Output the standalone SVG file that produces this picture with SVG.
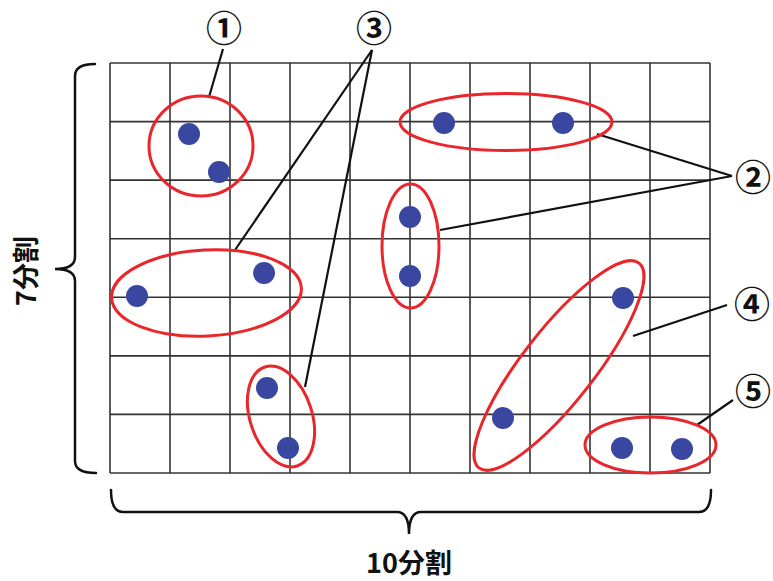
<svg xmlns="http://www.w3.org/2000/svg" width="773" height="581" viewBox="0 0 773 581">
<style>
.grid line{stroke:#333;stroke-width:1.6}
.grp{fill:none;stroke:#e8262b;stroke-width:3}
.dot{fill:#3a47a0}
.lead{stroke:#111;stroke-width:2.2;fill:none}
.brace{stroke:#111;stroke-width:2.5;fill:none;stroke-linecap:round}
.num{font-family:"Noto Sans CJK JP","Noto Sans",sans-serif;font-weight:bold;font-size:36px;fill:#111;text-anchor:middle}
.lbl{font-family:"Noto Sans CJK JP",sans-serif;font-weight:bold;font-size:27px;fill:#111;text-anchor:middle}
</style>
<rect width="773" height="581" fill="#fff"/>
<g id="grid" class="grid">
<line x1="110" y1="63" x2="110" y2="473"/>
<line x1="170" y1="63" x2="170" y2="473"/>
<line x1="230" y1="63" x2="230" y2="473"/>
<line x1="290" y1="63" x2="290" y2="473"/>
<line x1="350" y1="63" x2="350" y2="473"/>
<line x1="410" y1="63" x2="410" y2="473"/>
<line x1="470" y1="63" x2="470" y2="473"/>
<line x1="530" y1="63" x2="530" y2="473"/>
<line x1="590" y1="63" x2="590" y2="473"/>
<line x1="650" y1="63" x2="650" y2="473"/>
<line x1="710" y1="63" x2="710" y2="473"/>
<line x1="110" y1="63" x2="710" y2="63"/>
<line x1="110" y1="121.6" x2="710" y2="121.6"/>
<line x1="110" y1="180.1" x2="710" y2="180.1"/>
<line x1="110" y1="238.7" x2="710" y2="238.7"/>
<line x1="110" y1="297.3" x2="710" y2="297.3"/>
<line x1="110" y1="355.9" x2="710" y2="355.9"/>
<line x1="110" y1="414.4" x2="710" y2="414.4"/>
<line x1="110" y1="473" x2="710" y2="473"/>
</g>
<g id="connectors">
<line class="lead" x1="209" y1="97" x2="223" y2="49"/>
<line class="lead" x1="235" y1="250" x2="372" y2="50"/>
<line class="lead" x1="305" y1="387" x2="372" y2="50"/>
<line class="lead" x1="597" y1="134" x2="732" y2="176"/>
<line class="lead" x1="440" y1="230" x2="732" y2="176"/>
<line class="lead" x1="633" y1="336" x2="727" y2="305"/>
<line class="lead" x1="697" y1="425" x2="733" y2="400"/>
</g>
<g id="group1">
<ellipse class="grp" cx="201" cy="146" rx="52" ry="50"/>
<circle class="dot" cx="189" cy="134" r="11"/>
<circle class="dot" cx="219" cy="172" r="11"/>
</g>
<g id="group2a">
<ellipse class="grp" cx="506" cy="122" rx="106" ry="28.5"/>
<circle class="dot" cx="444" cy="123" r="11"/>
<circle class="dot" cx="563" cy="123" r="11"/>
</g>
<g id="group2b">
<ellipse class="grp" cx="410.5" cy="246" rx="28.5" ry="62"/>
<circle class="dot" cx="410" cy="217" r="11"/>
<circle class="dot" cx="410" cy="276" r="11"/>
</g>
<g id="group3a">
<ellipse class="grp" cx="206.5" cy="293" rx="95" ry="43" transform="rotate(-3 206.5 293)"/>
<circle class="dot" cx="137" cy="296" r="11"/>
<circle class="dot" cx="264" cy="273" r="11"/>
</g>
<g id="group3b">
<ellipse class="grp" cx="281" cy="416.5" rx="31" ry="52" transform="rotate(-18 281 416.5)"/>
<circle class="dot" cx="267" cy="388" r="11"/>
<circle class="dot" cx="288" cy="448" r="11"/>
</g>
<g id="group4">
<ellipse class="grp" cx="559" cy="365.5" rx="36" ry="130" transform="rotate(38 559 365.5)"/>
<circle class="dot" cx="623" cy="298" r="11"/>
<circle class="dot" cx="503" cy="418" r="11"/>
</g>
<g id="group5">
<ellipse class="grp" cx="650.5" cy="445" rx="65.5" ry="28"/>
<circle class="dot" cx="622" cy="448" r="11"/>
<circle class="dot" cx="682" cy="449" r="11"/>
</g>
<g id="labels">
<text class="num" x="224" y="42">①</text>
<text class="num" x="374" y="42">③</text>
<text class="num" x="753" y="191">②</text>
<text class="num" x="752" y="318">④</text>
<text class="num" x="753" y="405">⑤</text>
</g>
<g id="brace-left">
<path class="brace" d="M95,64 Q75,64 75,76 L75,257 Q75,269 55,269 Q75,269 75,281 L75,461 Q75,473 96,473"/>
<text class="lbl" transform="translate(36 271) rotate(-90)" x="0" y="0">7分割</text>
</g>
<g id="brace-bottom">
<path class="brace" d="M111,490 Q111,512 123,512 L397,512 Q409,512 409,534 Q409,512 421,512 L699,512 Q711,512 711,490"/>
<text class="lbl" x="409" y="573">10分割</text>
</g>
</svg>
